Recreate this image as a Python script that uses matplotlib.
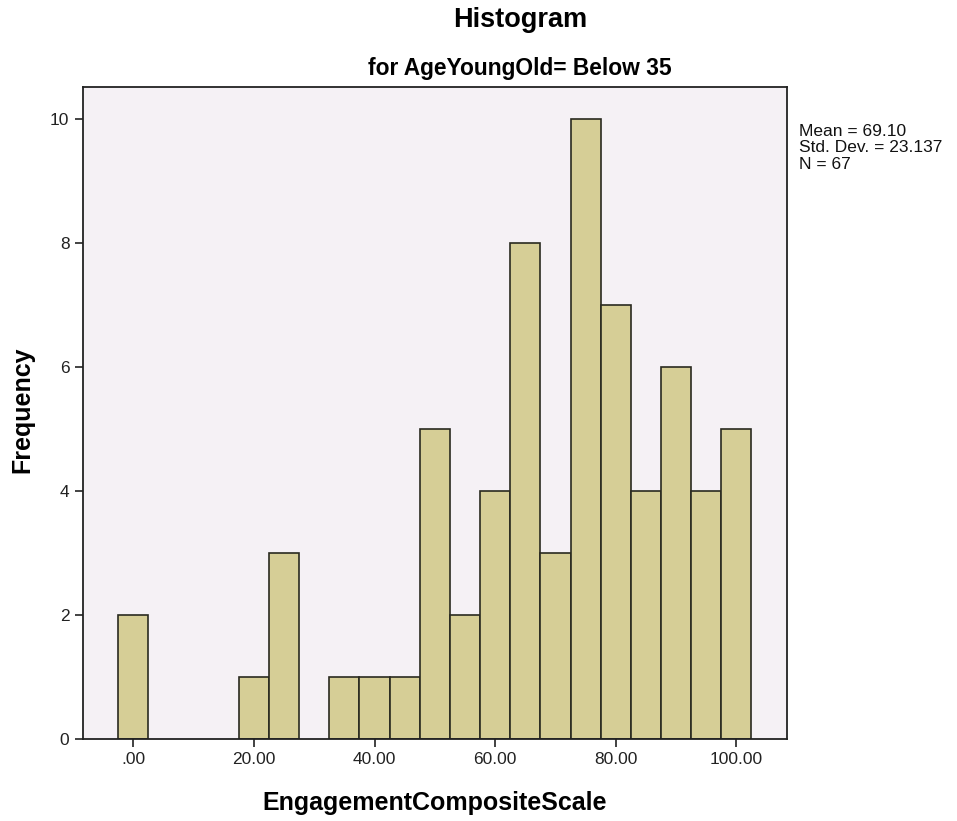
import numpy as np
import matplotlib
matplotlib.use('Agg')
import matplotlib.pyplot as plt

plt.rcParams['font.family'] = ['Liberation Sans', 'DejaVu Sans']

# bin centres (width 5) and counts
bin_centres = [0, 20, 25, 35, 40, 45, 50, 55, 60, 65, 70, 75, 80, 85, 90, 95, 100]
counts = [2, 1, 3, 1, 1, 1, 5, 2, 4, 8, 3, 10, 7, 4, 6, 4, 5]
x_ticks = [0, 20, 40, 60, 80, 100]
x_tick_labels = ['.00', '20.00', '40.00', '60.00', '80.00', '100.00']
y_ticks = [0, 2, 4, 6, 8, 10]
stats_text = 'Mean = 69.10\nStd. Dev. = 23.137\nN = 67'

fig = plt.figure(figsize=(9.57, 8.21), dpi=100)
ax = fig.add_axes([0.0864, 0.0999, 0.7360, 0.7942])
ax.set_facecolor('#F5F1F5')

ax.bar(bin_centres, counts, width=5, color='#D6CE96', edgecolor='#2a2a20', linewidth=1.2)

ax.set_xlim(-8.4, 108.4)
ax.set_ylim(0, 10.52)
ax.set_xticks(x_ticks)
ax.set_xticklabels(x_tick_labels)
ax.set_yticks(y_ticks)
ax.tick_params(direction='out', length=6, width=1.2, labelsize=12.5, colors='#222222')
for s in ax.spines.values():
    s.set_linewidth(1.3)
    s.set_color('#222222')

fig.text(435/957, 1 - 803/821, 'EngagementCompositeScale', ha='center', va='center',
         fontsize=18, fontweight='bold')
fig.text(22/957, 1 - 410/821, 'Frequency', ha='center', va='center', rotation=90,
         fontsize=18, fontweight='bold')

fig.text(520/957, 1 - 20/821, 'Histogram', ha='center', va='center', fontsize=19.5, fontweight='bold')
fig.text(520/957, 1 - 68/821, 'for AgeYoungOld= Below 35', ha='center', va='center', fontsize=16.4, fontweight='bold')
fig.text(799/957, 1 - 124/821, stats_text, ha='left', va='top', fontsize=12.5,
         linespacing=1.12, color='#111111')

fig.savefig('out.png', dpi=100)
